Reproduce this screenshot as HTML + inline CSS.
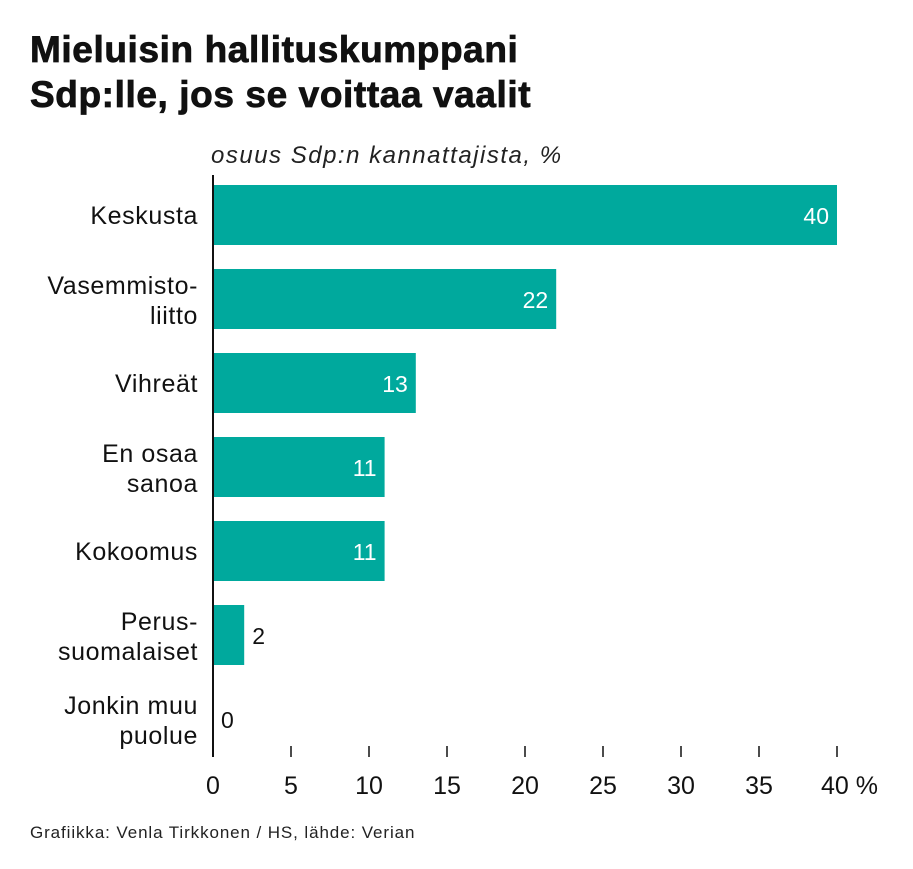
<!DOCTYPE html>
<html><head><meta charset="utf-8"><style>
body{margin:0;background:#fff;width:913px;height:864px;overflow:hidden;font-family:"Liberation Sans",sans-serif;}
</style></head><body>
<svg width="913" height="864" xmlns="http://www.w3.org/2000/svg">
<text x="30" y="62" font-size="37" font-weight="bold" fill="#111" stroke="#111" stroke-width="0.8" letter-spacing="0.6">Mieluisin hallituskumppani</text>
<text x="30" y="107" font-size="37" font-weight="bold" fill="#111" stroke="#111" stroke-width="0.8" letter-spacing="0.6">Sdp:lle, jos se voittaa vaalit</text>
<text x="211" y="163" font-size="24" font-style="italic" fill="#222" letter-spacing="1.5">osuus Sdp:n kannattajista, %</text>
<g id="plot"></g>
<text x="30" y="838" font-size="17" fill="#222" letter-spacing="0.9">Grafiikka: Venla Tirkkonen / HS, lähde: Verian</text>
</svg>
<script>
const categories=[["Keskusta"],["Vasemmisto-","liitto"],["Vihreät"],["En osaa","sanoa"],["Kokoomus"],["Perus-","suomalaiset"],["Jonkin muu","puolue"]];
const values=[40,22,13,11,11,2,0];
const ticks=[0,5,10,15,20,25,30,35,40];
const tickLabels=["0","5","10","15","20","25","30","35","40 %"];
const NS="http://www.w3.org/2000/svg";
const g=document.getElementById("plot");
const x=v=>213+v*15.6;
const y=i=>185+i*84;
function el(t,a){const e=document.createElementNS(NS,t);for(const k in a)e.setAttribute(k,a[k]);g.appendChild(e);return e;}
values.forEach((v,i)=>{
  const r=el("rect",{x:x(0),y:y(i),width:x(v)-x(0),height:60,fill:"#00a99d"});
  
  
  const inside=v>=8;
  const t=el("text",{x:inside?x(v)-8:x(v)+8,y:y(i)+39,"font-size":23,fill:inside?"#fff":"#111","text-anchor":inside?"end":"start"});
  t.textContent=v;
  
  
  const lines=categories[i];
  const lt=el("text",{x:198,"font-size":25,fill:"#111","text-anchor":"end","letter-spacing":0.6});
  
  
  lines.forEach((s,j)=>{const ts=document.createElementNS(NS,"tspan");ts.setAttribute("x",198);ts.setAttribute("y",y(i)+(lines.length==1?39:25+j*30));ts.textContent=s;lt.appendChild(ts);});
});
const ax=el("line",{x1:213,x2:213,y1:175,y2:757,stroke:"#111","stroke-width":2});


ticks.forEach((t,i)=>{
  const l=el("line",{x1:x(t),x2:x(t),y1:746,y2:757,stroke:"#111","stroke-width":1.5});
  
  
  const last=i==ticks.length-1;
  const tx=el("text",{x:last?x(t)-16:x(t),y:794,"font-size":25,fill:"#111","text-anchor":last?"start":"middle"});
  tx.textContent=tickLabels[i];
  
  
});
</script>
</body></html>
